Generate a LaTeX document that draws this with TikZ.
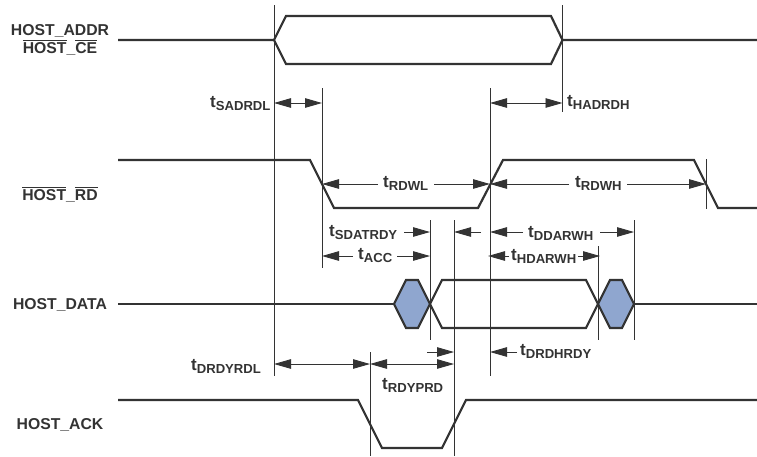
\documentclass[tikz,border=0pt]{standalone}
\usepackage{fontspec}
\setmainfont{Liberation Sans}
\usetikzlibrary{arrows.meta}

\definecolor{inkgray}{HTML}{333333}
\definecolor{hexblue}{HTML}{8FA6CF}

\newcommand{\ovl}[1]{\leavevmode\vbox{\hrule height 0.9pt \kern 1pt \hbox{#1}}}
\newcommand{\tlab}[1]{t\raisebox{-3.5pt}{\fontsize{13.1}{13.1}\selectfont #1}}

\tikzset{
 signal/.style={line width=2.2pt,line join=miter,draw=inkgray},
 guide/.style={line width=1pt,draw=inkgray},
 dim/.style={line width=0.9pt,draw=inkgray,{Triangle[length=17pt,width=9.5pt]}-{Triangle[length=17pt,width=9.5pt]}},
 dimto/.style={line width=0.9pt,draw=inkgray,-{Triangle[length=17pt,width=9.5pt]}},
 sigtext/.style={anchor=base,inner sep=0pt,text=inkgray,font=\fontsize{15.75}{16}\selectfont\bfseries},
 tlabel/.style={anchor=base west,inner sep=0pt,text=inkgray,font=\fontsize{17}{17}\selectfont\bfseries}
}

\begin{document}
\begin{tikzpicture}[x=1pt,y=-1pt]
 \useasboundingbox (0,0) rectangle (757,456);

 % signal names
 \node [sigtext] (addr) at (60,35) {HOST\_ADDR};
 \node [sigtext] (ce) at (60,53) {\ovl{HOST}\_\ovl{CE}};
 \node [sigtext] (rd) at (60,200) {\ovl{HOST}\_\ovl{RD}};
 \node [sigtext] (data) at (60,309) {HOST\_DATA};
 \node [sigtext] (ack) at (60,429) {HOST\_ACK};

 % waveforms
 \draw [signal] (118,40) -- (274,40) -- (286,16) -- (551,16) -- (562.5,40) -- (757,40);
 \draw [signal] (274,40) -- (286,64) -- (551,64) -- (562.5,40);

 \draw [signal] (118,160) -- (310,160) -- (334,208) -- (478,208) -- (503,160) -- (694,160) -- (718,208) -- (757,208);

 \draw [signal,fill=hexblue] (394,304) -- (406,280) -- (418,280) -- (430,304) -- (418,328) -- (406,328) -- cycle;
 \draw [signal,fill=hexblue] (598,304) -- (610,280) -- (622,280) -- (634,304) -- (622,328) -- (610,328) -- cycle;
 \draw [signal] (430,304) -- (442,280) -- (586,280) -- (598,304) -- (586,328) -- (442,328) -- cycle;
 \draw [signal] (118,304) -- (394,304);
 \draw [signal] (634,304) -- (757,304);

 \draw [signal] (118,400) -- (358,400) -- (382,448) -- (442,448) -- (466,400) -- (757,400);

 % timing guides
 \draw [guide] (274,5) -- (274,376);
 \draw [guide] (322,88) -- (322,268);
 \draw [guide] (370,352) -- (370,456);
 \draw [guide] (430,220) -- (430,340);
 \draw [guide] (454,220) -- (454,456);
 \draw [guide] (490,88) -- (490,376);
 \draw [guide] (562.5,5) -- (562.5,112);
 \draw [guide] (598,246) -- (598,340);
 \draw [guide] (634,220) -- (634,340);
 \draw [guide] (706,159) -- (706,209);

 % timing labels
 \node [tlabel] (sadrdl) at (210,107) {\tlab{SADRDL}};
 \node [tlabel] (hadrdh) at (567,106) {\tlab{HADRDH}};
 \node [tlabel] (rdwl) at (383,187) {\tlab{RDWL}};
 \node [tlabel] (rdwh) at (575,187) {\tlab{RDWH}};
 \node [tlabel] (sdatrdy) at (329,236) {\tlab{SDATRDY}};
 \node [tlabel] (ddarwh) at (528,237) {\tlab{DDARWH}};
 \node [tlabel] (acc) at (358,259) {\tlab{ACC}};
 \node [tlabel] (hdarwh) at (511,260) {\tlab{HDARWH}};
 \node [tlabel] (drdhrdy) at (520,355) {\tlab{DRDHRDY}};
 \node [tlabel] (drdyrdl) at (191,370) {\tlab{DRDYRDL}};
 \node [tlabel] (rdyprd) at (382,389) {\tlab{RDYPRD}};

 % timing arrows
 \draw [dim] (274,103) -- (322,103);
 \draw [dim] (490,103) -- (562.5,103);

 \draw [dimto] (378,184) -- (322,184);
 \draw [dimto] (434,184) -- (490,184);
 \draw [dimto] (569,184) -- (490,184);
 \draw [dimto] (627,184) -- (706,184);

 \draw [dimto] (404,232) -- (430,232);
 \draw [dimto] (481,232) -- (454,232);
 \draw [dimto] (523,232) -- (490,232);
 \draw [dimto] (600,232) -- (634,232);

 \draw [dimto] (353,256) -- (322,256);
 \draw [dimto] (397,256) -- (430,256);
 \draw [dimto] (509,256) -- (488,256);
 \draw [dimto] (578,256) -- (600,256);

 \draw [dimto] (427,352) -- (454,352);
 \draw [dimto] (517,352) -- (490,352);

 \draw [dim] (274,364) -- (370,364);
 \draw [dim] (370,364) -- (454,364);
\end{tikzpicture}
\end{document}
